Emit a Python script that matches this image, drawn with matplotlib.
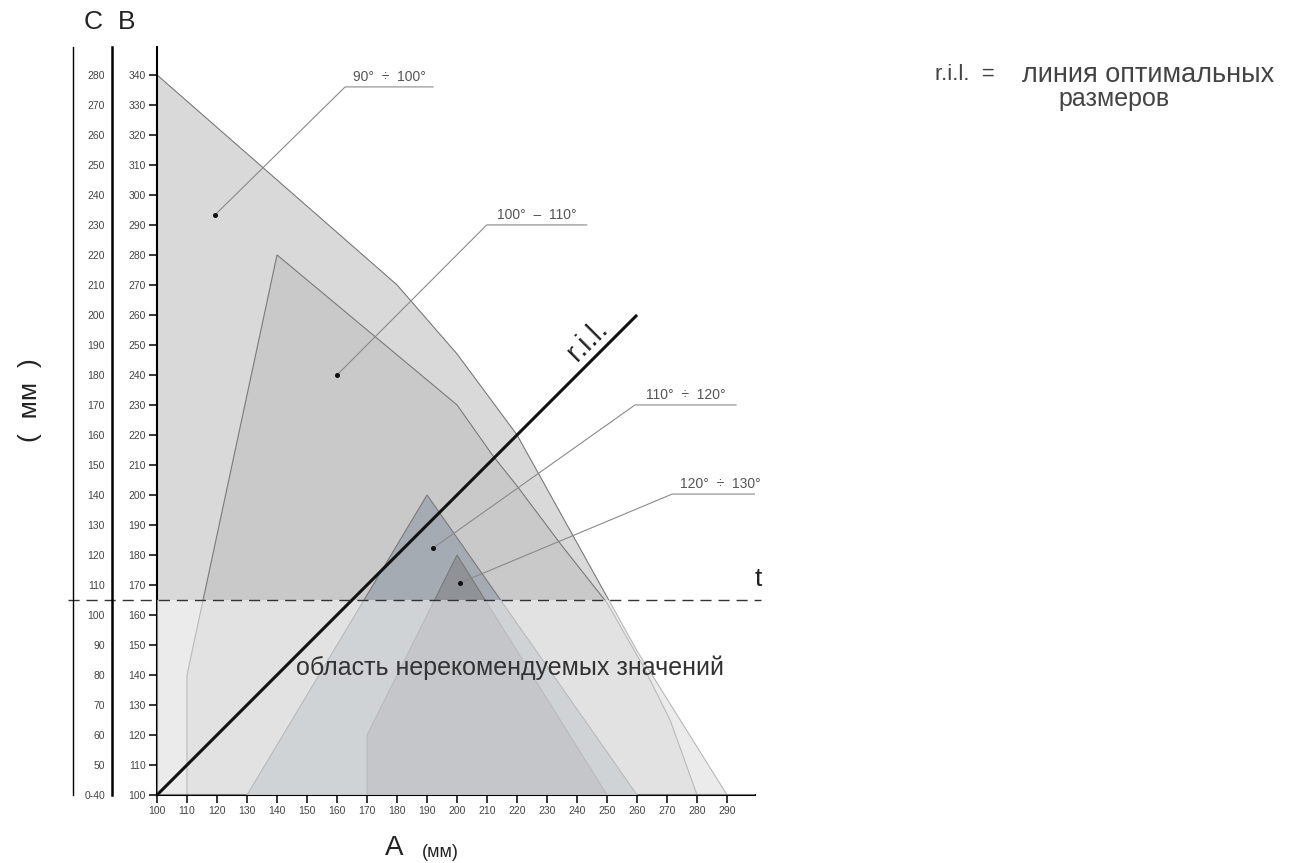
import matplotlib
matplotlib.use("Agg")
import matplotlib.pyplot as plt

# --- data ---
a_ticks = list(range(100, 300, 10))
b_ticks = list(range(100, 350, 10))
c_labels = ["0-40"] + [str(v) for v in range(50, 290, 10)]

# 90-100 deg (outer, lightest)
poly1_a = [100, 100, 180, 200, 220, 250, 260, 290]
poly1_b = [100, 340, 270, 247, 220, 166, 148, 100]
# 100-110 deg
poly2_a = [110, 110, 140, 200, 212, 220, 235, 250, 262, 271, 280]
poly2_b = [100, 140, 280, 230, 213, 203, 183, 164, 143, 125, 100]
# 110-120 deg
poly3_a = [130, 190, 260]
poly3_b = [100, 200, 100]
# 120-130 deg
poly4_a = [170, 170, 200, 250]
poly4_b = [100, 120, 180, 100]

ril_a = [100, 260]
ril_b = [100, 260]
t_level = 165

labels = ["90°  ÷  100°", "100°  –  110°", "110°  ÷  120°", "120°  ÷  130°"]
dots = [(119.3, 293.3), (160, 240), (192, 182.3), (201, 170.7)]
knees = [(162.7, 336), (209.9, 290), (259.3, 230), (271.7, 200.3)]
ends = [192, 243.2, 293, 303.7]

fills = ["#d9d9d9", "#c9c9c9", "#a5abb2", "#8f9398"]
edge = "#7a7a7a"

plt.rcParams["font.family"] = ["Liberation Sans", "DejaVu Sans"]

fig = plt.figure(figsize=(12.97, 8.63), dpi=100)
W, H = 1297, 863
ax = fig.add_axes([157 / W, (H - 795) / H, 598 / W, 748 / H])
ax.set_xlim(100, 299.3)
ax.set_ylim(100, 349.3)

polys = [(poly1_a, poly1_b), (poly2_a, poly2_b), (poly3_a, poly3_b), (poly4_a, poly4_b)]
for i, (pa, pb) in enumerate(polys):
    ax.fill(pa, pb, facecolor=fills[i], edgecolor=edge, lw=0.8, zorder=1 + i)

# lighter zone under t
ax.axhspan(100, t_level, color="white", alpha=0.48, lw=0, zorder=5)

ax.plot(ril_a, ril_b, color="#111111", lw=2.2, zorder=6, solid_capstyle="butt")
ax.axhline(t_level, xmin=-0.148, xmax=1.01, color="#333333", lw=1.0,
           dashes=(8, 5), clip_on=False, zorder=6)

for lab, d, k, e in zip(labels, dots, knees, ends):
    ax.plot([d[0], k[0], e], [d[1], k[1], k[1]], color="#8a8a8a", lw=0.8, zorder=7)
    ax.plot(d[0], d[1], "o", color="#111111", ms=2.6, zorder=8)
    ax.text((k[0] + e) / 2, k[1] + 1.0, lab, ha="center", va="bottom",
            fontsize=10, color="#555555", zorder=8)

ax.text(217.7, 142.3, "область нерекомендуемых значений", ha="center", va="center",
        fontsize=18, color="#333333", zorder=8)
ax.text(243.5, 251.5, "r.i.l.", rotation=45, ha="center", va="center",
        fontsize=21, color="#222222", rotation_mode="anchor", zorder=8)
ax.text(300.5, 172, "t", ha="center", va="center", fontsize=19,
        color="#222222", clip_on=False)

for s in ["top", "right"]:
    ax.spines[s].set_visible(False)
ax.spines["left"].set_linewidth(1.5)
ax.spines["bottom"].set_linewidth(1.5)
ax.set_xticks(a_ticks)
ax.set_yticks(b_ticks)
ax.tick_params(axis="both", direction="out", length=6, width=1.1, pad=2,
               labelsize=7.5, labelcolor="#444444")

# C scale
ax2 = ax.twinx()
ax2.set_ylim(ax.get_ylim())
for s in ["top", "right", "bottom"]:
    ax2.spines[s].set_visible(False)
ax2.spines["left"].set_visible(True)
ax2.spines["left"].set_position(("outward", 45 * 0.72))
ax2.spines["left"].set_linewidth(1.8)
ax2.yaxis.set_ticks_position("left")
ax2.set_yticks(b_ticks)
ax2.set_yticklabels(c_labels)
ax2.tick_params(axis="y", length=0, pad=5, labelsize=7.5, labelcolor="#444444")

# outer frame line of the C scale
ax3 = ax.twinx()
for s in ["top", "right", "bottom"]:
    ax3.spines[s].set_visible(False)
ax3.spines["left"].set_visible(True)
ax3.spines["left"].set_position(("outward", 84 * 0.72))
ax3.spines["left"].set_linewidth(1.0)
ax3.set_yticks([])

fig.text(93 / W, 1 - 22 / H, "C", ha="center", va="center", fontsize=19, color="#222222")
fig.text(127 / W, 1 - 22 / H, "B", ha="center", va="center", fontsize=19, color="#222222")
fig.text(30 / W, 1 - 400 / H, "(  мм  )", rotation=90, ha="center", va="center",
         fontsize=19, color="#222222")
fig.text(394 / W, 1 - 848 / H, "A", ha="center", va="center", fontsize=20, color="#222222")
fig.text(440 / W, 1 - 852 / H, "(мм)", ha="center", va="center", fontsize=13, color="#222222")

fig.text(935 / W, 1 - 75 / H, "r.i.l.  =", ha="left", va="center",
         fontsize=16, color="#444444")
fig.text(1022 / W, 1 - 75 / H, "линия оптимальных", ha="left", va="center",
         fontsize=19.5, color="#444444")
fig.text(1058 / W, 1 - 99 / H, "размеров", ha="left", va="center",
         fontsize=18, color="#444444")

fig.savefig("out.png", dpi=100)
